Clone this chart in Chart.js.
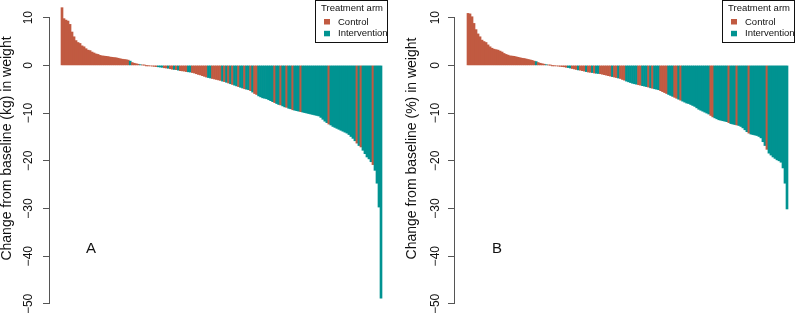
<!DOCTYPE html>
<html><head><meta charset="utf-8">
<script src="https://cdn.jsdelivr.net/npm/chart.js@4"></script>
<style>
html,body{margin:0;padding:0;background:#fff;}
#wrap{position:relative;width:795px;height:313px;overflow:hidden;background:#fff;}
canvas{position:absolute;top:0;}
</style></head><body>
<div id="wrap">
<canvas id="cA" width="400" height="313" style="left:0px"></canvas>
<canvas id="cB" width="395" height="313" style="left:400px"></canvas>
</div>
<script>
// ---- data ----
const armNames = ['Control', 'Intervention'];
const armColors = ['#C15A41', '#009391'];
const legendTitle = 'Treatment arm';
const yTickValues = [-50, -40, -30, -20, -10, 0, 10];
const yTickLabels = ['\u221250', '\u221240', '\u221230', '\u221220', '\u221210', '0', '10'];
const panelTitles = ['Change from baseline (kg) in weight', 'Change from baseline (%) in weight'];
const panelLetters = ['A', 'B'];

// Panel A: change in kg, sorted; arm: 0 = Control, 1 = Intervention
const kgChange = [
  12.1, 9.8, 9.5, 9.3, 8.6, 7.0, 6.0, 5.2, 4.8, 4.6,
  4.1, 3.9, 3.5, 3.2, 3.1, 2.8, 2.6, 2.4, 2.3, 2.1,
  2.0, 1.95, 1.9, 1.85, 1.75, 1.7, 1.65, 1.6, 1.5, 1.4,
  1.3, 1.25, 1.2, 1.1, 0.9, 0.6, 0.45, 0.35, 0.25, 0.15,
  0.08, 0.04, -0.02, -0.05, -0.1, -0.15, -0.2, -0.25, -0.3, -0.35,
  -0.4, -0.5, -0.55, -0.6, -0.7, -0.8, -0.85, -0.9, -1.0, -1.1,
  -1.15, -1.2, -1.3, -1.35, -1.4, -1.5, -1.6, -1.75, -1.9, -2.0,
  -2.15, -2.3, -2.45, -2.55, -2.65, -2.75, -2.85, -2.95, -3.05, -3.15,
  -3.3, -3.4, -3.55, -3.7, -3.85, -4.0, -4.15, -4.3, -4.45, -4.6,
  -4.75, -4.9, -5.0, -5.1, -5.3, -5.6, -5.9, -6.1, -6.4, -6.6,
  -6.8, -6.9, -7.0, -7.2, -7.4, -7.6, -7.8, -8.0, -8.2, -8.3,
  -8.5, -8.7, -8.8, -9.0, -9.1, -9.3, -9.4, -9.5, -9.6, -9.7,
  -9.8, -9.9, -10.0, -10.1, -10.2, -10.3, -10.4, -10.5, -10.6, -10.9,
  -11.3, -11.7, -12.0, -12.3, -12.5, -12.8, -13.0, -13.2, -13.4, -13.6,
  -13.8, -14.0, -14.2, -14.5, -14.9, -15.3, -15.8, -16.3, -16.8, -17.1,
  -17.8, -18.5, -19.2, -19.6, -20.2, -20.8, -22.0, -24.7, -29.7, -48.8
];
const kgArm = [
  0,0,0,0,0,0,0,0,0,0,
  0,0,0,0,0,0,0,0,0,0,
  0,0,0,0,0,0,0,0,0,0,
  0,0,0,0,1,0,0,0,0,1,
  0,0,0,0,0,0,0,0,1,1,
  1,0,0,1,0,0,1,0,1,0,
  0,0,0,1,1,0,0,0,0,0,
  0,0,0,1,1,0,0,0,0,0,
  1,0,1,0,1,0,1,1,0,1,
  1,0,1,1,0,1,0,0,1,1,
  1,1,1,1,1,1,0,1,1,0,
  1,1,0,1,1,0,1,1,1,0,
  1,1,1,1,1,1,1,1,1,1,
  1,1,1,0,1,1,1,1,1,1,
  1,1,1,1,1,1,1,0,1,0,
  1,1,1,1,1,0,1,1,1,1
];

// Panel B: change in %, sorted
const pctChange = [
  10.9, 10.8, 10.2, 8.8, 7.5, 6.6, 6.0, 5.3, 5.0, 4.8,
  4.3, 3.9, 3.6, 3.4, 3.3, 3.2, 3.0, 2.8, 2.5, 2.3,
  2.15, 2.0, 1.95, 1.9, 1.8, 1.7, 1.6, 1.5, 1.45, 1.35,
  1.25, 1.15, 1.05, 0.9, 0.8, 0.6, 0.45, 0.35, 0.25, 0.15,
  0.08, 0.03, -0.02, -0.05, -0.1, -0.15, -0.2, -0.25, -0.3, -0.4,
  -0.45, -0.55, -0.65, -0.75, -0.85, -0.95, -1.0, -1.1, -1.2, -1.3,
  -1.4, -1.45, -1.5, -1.6, -1.65, -1.7, -1.75, -1.85, -1.95, -2.05,
  -2.15, -2.25, -2.35, -2.45, -2.55, -2.65, -2.75, -2.95, -3.1, -3.3,
  -3.45, -3.6, -3.75, -3.85, -3.95, -4.05, -4.15, -4.25, -4.35, -4.45,
  -4.55, -4.7, -4.8, -4.9, -5.0, -5.1, -5.3, -5.5, -5.7, -5.9,
  -6.1, -6.3, -6.5, -6.7, -6.9, -7.1, -7.3, -7.5, -7.7, -7.9,
  -8.0, -8.2, -8.4, -8.6, -8.9, -9.2, -9.4, -9.6, -9.8, -10.0,
  -10.2, -10.5, -10.8, -11.0, -11.2, -11.4, -11.5, -11.6, -11.7, -11.8,
  -12.0, -12.2, -12.3, -12.4, -12.5, -12.6, -12.8, -13.1, -13.5, -13.9,
  -14.2, -14.4, -14.5, -14.6, -14.7, -14.9, -15.2, -16.0, -16.8, -17.6,
  -18.4, -18.8, -19.2, -19.5, -19.8, -20.0, -20.3, -21.5, -24.7, -30.1
];
const pctArm = [
  0,0,0,0,0,0,0,0,0,0,
  0,0,0,0,0,0,0,0,0,0,
  0,0,0,0,0,0,0,0,0,0,
  0,0,0,0,1,0,0,0,0,1,
  0,0,0,0,0,0,0,0,0,0,
  1,1,0,0,0,1,0,0,0,1,
  0,0,1,0,1,1,0,0,0,0,
  0,0,1,0,0,1,0,0,0,1,
  1,1,1,1,1,0,0,1,1,1,
  0,1,0,1,1,1,0,0,0,0,
  1,1,1,0,0,1,0,1,1,1,
  1,1,1,1,1,1,1,1,1,1,
  1,0,0,1,1,1,1,1,1,1,
  0,1,1,1,0,1,1,1,1,1,
  0,1,1,1,1,1,1,1,1,0,
  1,1,1,1,1,1,1,1,1,1
];

// ---- rendering ----
Chart.defaults.font.family = "'Liberation Sans', Arial, Helvetica, sans-serif";

const overlayPlugin = {
  id: 'overlay',
  afterDraw(chart, args, o) {
    const ctx = chart.ctx;
    ctx.save();
    ctx.fillStyle = '#111';
    ctx.font = "14px 'Liberation Sans', Arial, sans-serif";
    ctx.textAlign = 'center';
    ctx.textBaseline = 'middle';
    ctx.translate(o.titleX, o.titleY);
    ctx.rotate(-Math.PI / 2);
    ctx.fillText(o.title, 0, 0);
    ctx.restore();

    ctx.save();
    ctx.fillStyle = '#111';
    ctx.font = "15px 'Liberation Sans', Arial, sans-serif";
    ctx.textAlign = 'left';
    ctx.textBaseline = 'alphabetic';
    ctx.fillText(o.letter, o.letterX, o.letterY);

    const L = o.legendX;
    ctx.strokeStyle = '#111';
    ctx.lineWidth = 1;
    ctx.strokeRect(L + 0.5, 0.5, 72, 42);
    ctx.font = "9.5px 'Liberation Sans', Arial, sans-serif";
    ctx.textAlign = 'center';
    ctx.textBaseline = 'middle';
    ctx.fillText(legendTitle, L + 37, 8.5);
    armNames.forEach((name, k) => {
      ctx.fillStyle = armColors[k];
      ctx.fillRect(L + 9, 19 + k * 11.8, 6, 5.5);
      ctx.fillStyle = '#111';
      ctx.textAlign = 'left';
      ctx.fillText(name, L + 23, 22 + k * 11.8);
    });
    ctx.restore();
  }
};

function makePanel(canvasId, values, arms, cfg) {
  const points = values.map((v, i) => ({ x: i + 1, y: v }));
  return new Chart(document.getElementById(canvasId), {
    type: 'bar',
    data: {
      datasets: [{
        label: cfg.title,
        data: points,
        backgroundColor: arms.map(a => armColors[a]),
        borderWidth: 0,
        barPercentage: 1,
        categoryPercentage: 1,
        clip: false
      }]
    },
    options: {
      responsive: false,
      animation: false,
      devicePixelRatio: 1,
      layout: { padding: { top: 17.7, bottom: 9.1, left: 0, right: cfg.padRight } },
      plugins: {
        legend: { display: false },
        tooltip: { enabled: false },
        overlay: {
          title: cfg.title, titleX: cfg.titleX, titleY: 148.5,
          letter: cfg.letter, letterX: cfg.letterX, letterY: 253,
          legendX: cfg.legendX
        }
      },
      scales: {
        x: { type: 'linear', display: false, offset: false, min: cfg.xMin, max: cfg.xMax },
        y: {
          min: -50, max: 10,
          afterBuildTicks: s => { s.ticks = yTickValues.map(v => ({ value: v })); },
          afterFit: s => { s.width = cfg.axisWidth; },
          border: { display: true, color: '#555', width: 1 },
          grid: { display: true, drawOnChartArea: false, drawTicks: true, tickLength: 6, color: '#555' },
          ticks: {
            minRotation: 90, maxRotation: 90, padding: cfg.tickPad, color: '#111',
            crossAlign: 'center',
            font: { size: 12, lineHeight: 0.9 },
            callback: v => yTickLabels[yTickValues.indexOf(v)]
          }
        }
      }
    },
    plugins: [overlayPlugin]
  });
}

makePanel('cA', kgChange, kgArm, {
  title: panelTitles[0], letter: panelLetters[0],
  xMin: -5.48, xMax: 166.48, padRight: 6, axisWidth: 49, tickPad: 3.7,
  titleX: 7.5, letterX: 86, legendX: 315
});
makePanel('cB', pctChange, pctArm, {
  title: panelTitles[1], letter: panelLetters[1],
  xMin: -5.98, xMax: 163.49, padRight: 1, axisWidth: 54, tickPad: 2,
  titleX: 12.5, letterX: 92, legendX: 322
});
</script>
</body></html>
